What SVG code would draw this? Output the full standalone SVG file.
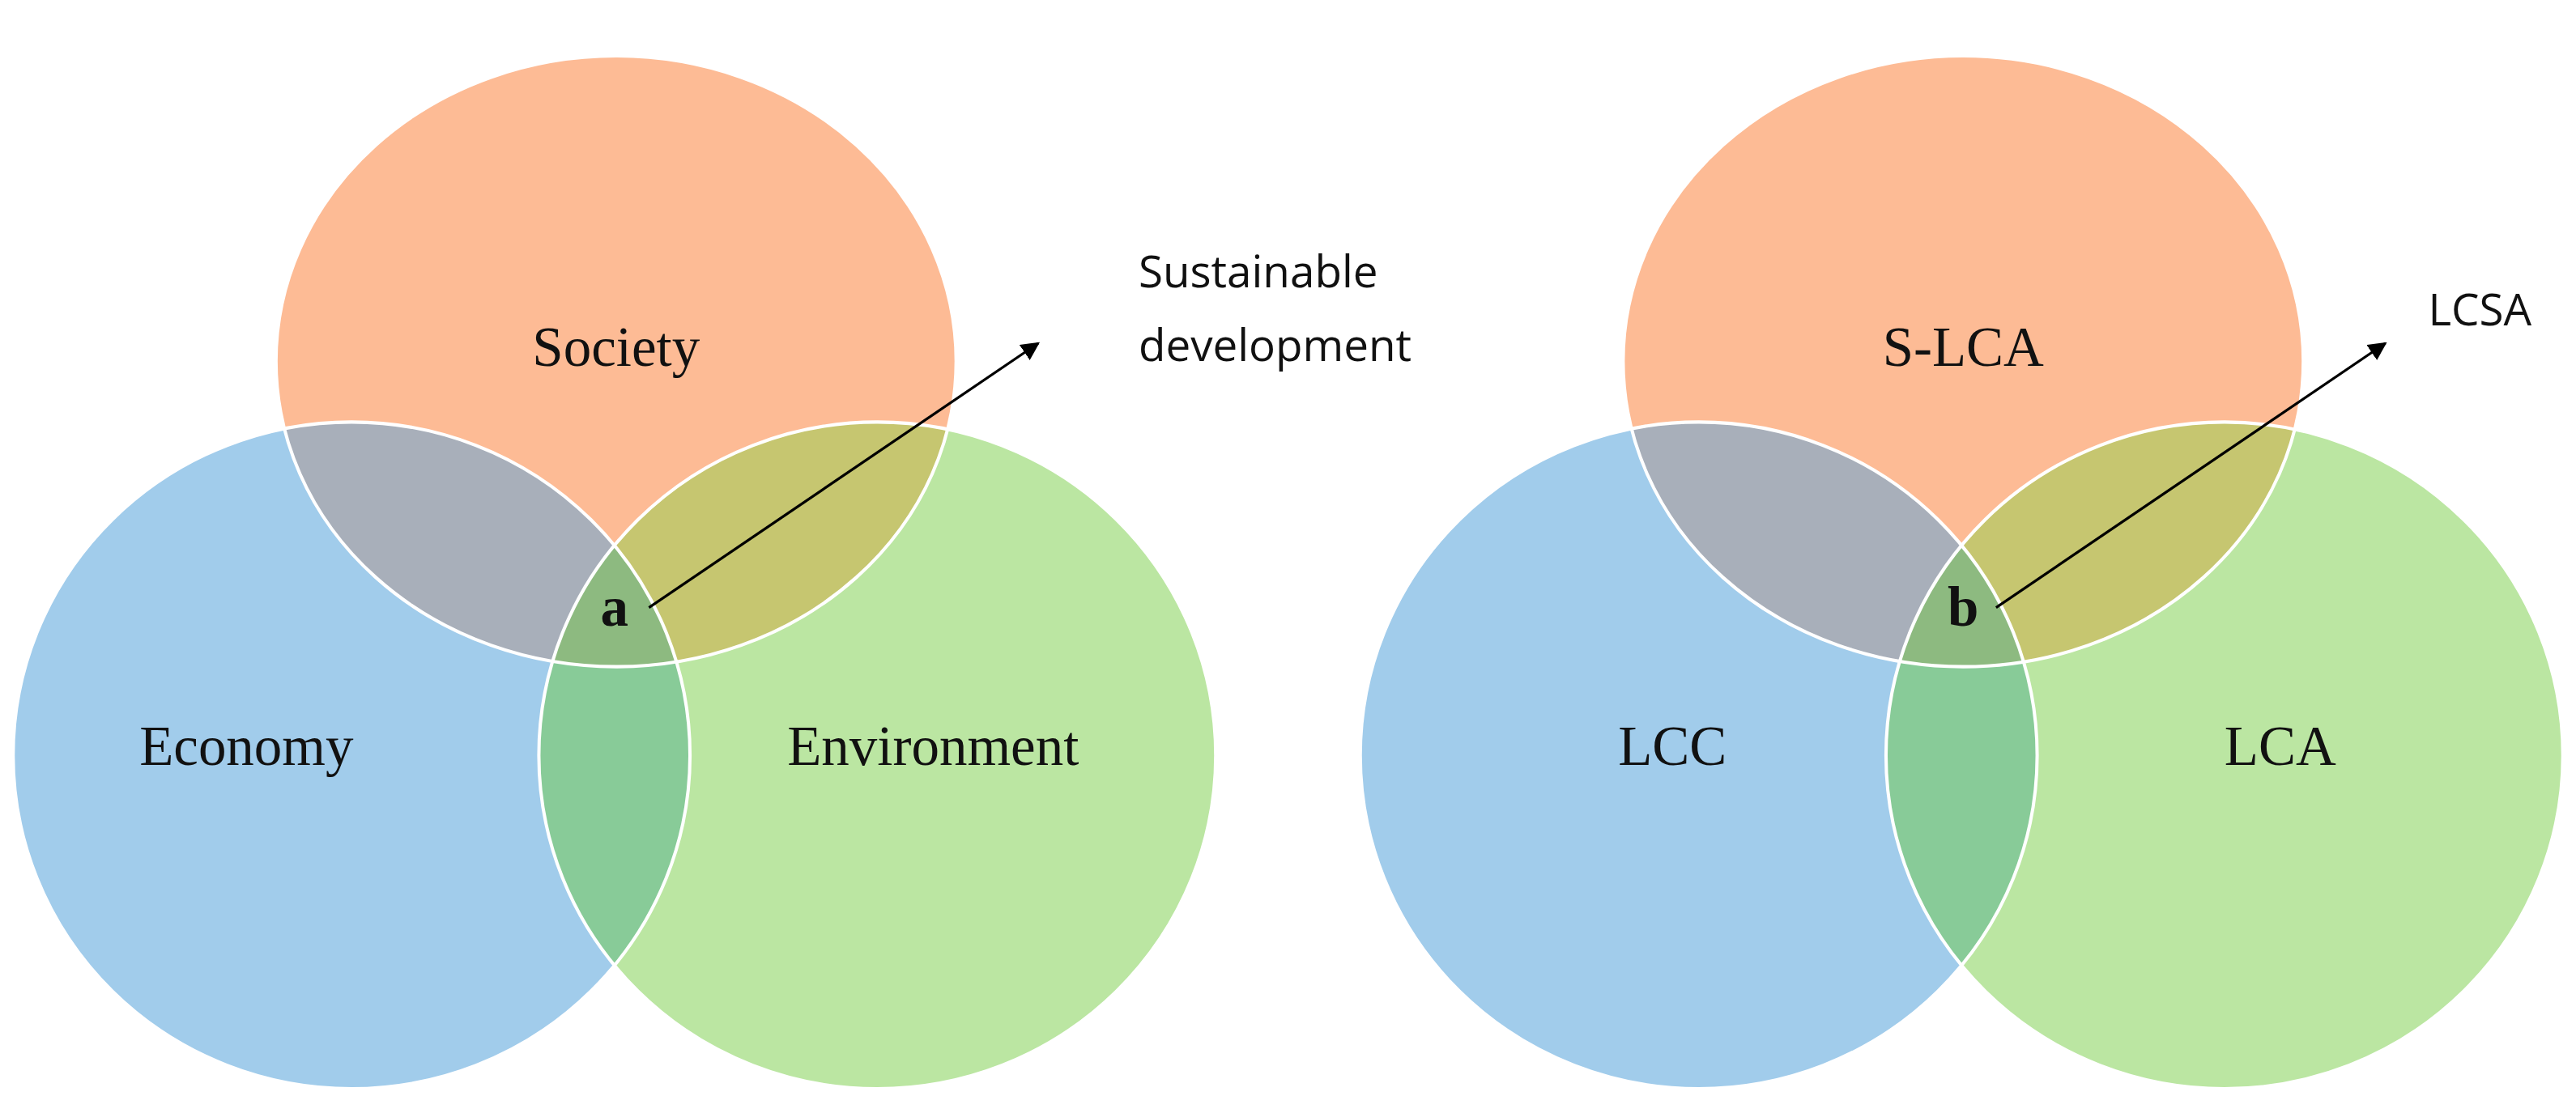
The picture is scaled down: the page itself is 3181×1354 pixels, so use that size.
<svg xmlns="http://www.w3.org/2000/svg" width="3181" height="1354" viewBox="0 0 3181 1354">
<style>
.lbl{font-family:"Liberation Serif",serif;font-size:34px;text-anchor:middle;fill:#111}
.ltr{font-family:"Liberation Serif",serif;font-size:34px;font-weight:bold;text-anchor:middle;fill:#111}
.ann{font-family:"Open Sans","Liberation Sans",sans-serif;font-size:27px;fill:#111}
.edge{stroke:#000;stroke-width:1.6;fill:none;marker-end:url(#ah)}
.ol{fill:none;stroke:#fff;stroke-width:2}
</style>
<defs>
<marker id="ah" viewBox="0 0 10 10" refX="9" refY="5" markerWidth="7" markerHeight="7" orient="auto"><path d="M0,0L10,5L0,10z" fill="#000"/></marker>
<ellipse id="S" cx="375" cy="220" rx="207" ry="186"/>
<ellipse id="Ec" cx="214" cy="460" rx="206" ry="203"/>
<ellipse id="En" cx="534" cy="460" rx="206" ry="203"/>
<clipPath id="cS"><use href="#S"/></clipPath>
<clipPath id="cEc"><use href="#Ec"/></clipPath>
<clipPath id="cEn"><use href="#En"/></clipPath>
<g id="venn">
<use href="#Ec" fill="#A1CCEB"/>
<use href="#En" fill="#BBE6A2"/>
<use href="#S" fill="#FDBB95"/>
<g clip-path="url(#cS)"><use href="#Ec" fill="#A8AFBA"/><use href="#En" fill="#C6C670"/></g>
<g clip-path="url(#cEc)"><use href="#En" fill="#88CB98"/></g>
<g clip-path="url(#cS)"><g clip-path="url(#cEc)"><use href="#En" fill="#8DBA80"/></g></g>
<use href="#S" class="ol"/><use href="#Ec" class="ol"/><use href="#En" class="ol"/>
</g>
</defs>
<g transform="scale(2.0287)">
<g id="left"><use href="#venn"/></g>
<g id="right" transform="translate(820,0)"><use href="#venn"/></g>
<g id="connectors">
<line class="edge" x1="395" y1="370" x2="632" y2="209"/>
<line class="edge" x1="1215" y1="370" x2="1452" y2="209"/>
</g>
<g id="labels-left">
<text class="lbl" x="375" y="223">Society</text>
<text class="lbl" x="150" y="466">Economy</text>
<text class="lbl" x="568" y="466">Environment</text>
<text class="ltr" x="374" y="381">a</text>
<text class="ann" x="693" y="175">Sustainable</text>
<text class="ann" x="693" y="220">development</text>
</g>
<g id="labels-right">
<text class="lbl" x="1195" y="223">S-LCA</text>
<text class="lbl" x="1018" y="466">LCC</text>
<text class="lbl" x="1388" y="466">LCA</text>
<text class="ltr" x="1195" y="381">b</text>
<text class="ann" x="1478" y="198">LCSA</text>
</g>
</g>
</svg>
